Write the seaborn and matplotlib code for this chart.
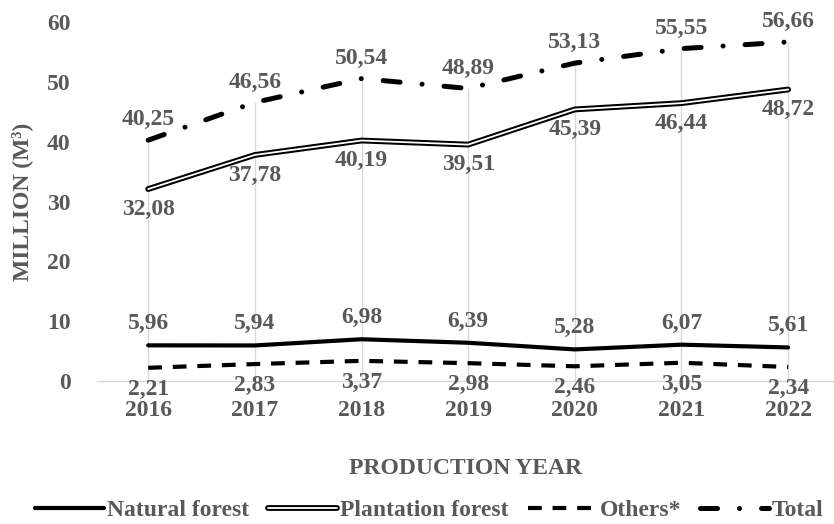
import numpy as np
import matplotlib
matplotlib.use('Agg')
import matplotlib.pyplot as plt
import matplotlib.patheffects as pe
import seaborn as sns

sns.set_style('white')
plt.rcParams['font.family'] = ['Liberation Serif', 'DejaVu Serif']
plt.rcParams['font.weight'] = 'bold'

years = ['2016', '2017', '2018', '2019', '2020', '2021', '2022']
natural = [5.96, 5.94, 6.98, 6.39, 5.28, 6.07, 5.61]
plantation = [32.08, 37.78, 40.19, 39.51, 45.39, 46.44, 48.72]
others = [2.21, 2.83, 3.37, 2.98, 2.46, 3.05, 2.34]
total = [40.25, 46.56, 50.54, 48.89, 53.13, 55.55, 56.66]

grey = '#595959'
fs = 17
x = np.arange(len(years))

fig = plt.figure(figsize=(8.34, 5.24), dpi=100)
ax = fig.add_axes([97 / 834, (524 - 381) / 524, 1 - 97 / 834, (381 - 22) / 524])

# drop lines from top series down to the axis
ax.vlines(x, 0, total, color='#d9d9d9', lw=1, zorder=0)

sns.lineplot(x=x, y=natural, ax=ax, color='black', lw=3, label='Natural forest')
sns.lineplot(x=x, y=plantation, ax=ax, color='white', lw=1.3, label='Plantation forest',
             path_effects=[pe.Stroke(linewidth=4.2, foreground='black'), pe.Normal()])
sns.lineplot(x=x, y=others, ax=ax, color='black', lw=3, label='Others*',
             linestyle=(0, (3.3, 2.6)))
sns.lineplot(x=x, y=total, ax=ax, color='black', lw=3.6, label='Total',
             linestyle=(0, (3.4, 4.4, 0.01, 4.4)))
ax.get_lines()[-1].set_dash_capstyle('round')

def put_labels(vals, dy, va):
    for i, v in enumerate(vals):
        ax.annotate(f'{v:.2f}'.replace('.', ','), (x[i], v), xytext=(0, dy),
                    textcoords='offset points', ha='center', va=va,
                    fontsize=fs, color=grey, fontweight='bold')

put_labels(natural, 8, 'bottom')
put_labels(others, -8, 'top')
put_labels(plantation, -7, 'top')
put_labels(total, 7, 'bottom')

ax.set_xlim(-0.48, 6.43)
ax.set_ylim(0, 60)
ax.set_yticks(range(0, 61, 10))
ax.set_xticks(x)
ax.set_xticklabels(years)
for s in ['top', 'right', 'left']:
    ax.spines[s].set_visible(False)
ax.spines['bottom'].set_color('#d9d9d9')
ax.spines['bottom'].set_linewidth(1)
ax.tick_params(axis='both', length=0, labelsize=fs, labelcolor=grey)
ax.tick_params(axis='y', pad=19)
ax.tick_params(axis='x', pad=14)
for t in ax.get_xticklabels() + ax.get_yticklabels():
    t.set_fontweight('bold')

ax.set_xlabel('PRODUCTION YEAR', fontsize=fs, color=grey, fontweight='bold', labelpad=26)
ax.set_ylabel('MILLION (M³)', fontsize=fs, color=grey, fontweight='bold')
ax.yaxis.set_label_coords(-0.087, 0.5)

handles, labels = ax.get_legend_handles_labels()
ax.get_legend().remove()
fig.legend(handles, labels, loc='lower center', bbox_to_anchor=(0.515, -0.035), ncol=4,
           frameon=False, fontsize=fs, handlelength=2.9, handletextpad=0.15,
           columnspacing=0.8, labelcolor=grey)

fig.savefig('out.png', dpi=100)
